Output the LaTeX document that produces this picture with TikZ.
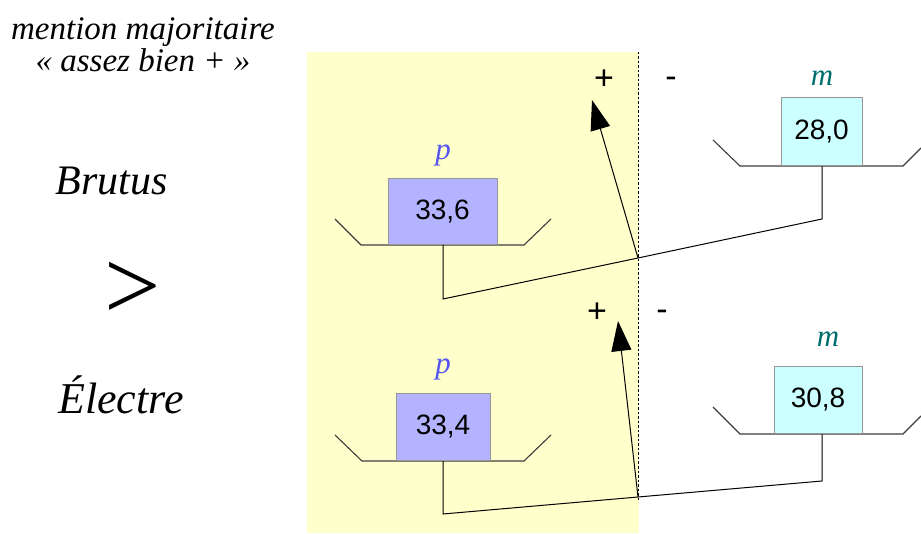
\documentclass[tikz,border=0pt]{standalone}
\usepackage{fontspec}
\setmainfont{Liberation Serif}
\newfontfamily\sansf{Liberation Sans}
\usetikzlibrary{arrows.meta}
\definecolor{bgyellow}{RGB}{255,255,204}
\definecolor{pfill}{RGB}{179,179,255}
\definecolor{mfill}{RGB}{204,255,255}
\definecolor{boxline}{RGB}{150,150,150}
\definecolor{pcol}{RGB}{85,85,240}
\definecolor{mcol}{RGB}{0,110,110}
\definecolor{panline}{RGB}{60,60,60}
\tikzset{
  weight/.style={draw=boxline, line width=1pt, inner sep=0pt, anchor=south,
     font=\sansf\fontsize{28}{30}\selectfont, minimum height=67pt},
  pweight/.style={weight, fill=pfill},
  mweight/.style={weight, fill=mfill},
  pan/.style={draw=panline, line width=1.1pt},
  beam/.style={draw=black, line width=1pt},
  arrowline/.style={draw=black, line width=1pt, -{Triangle[length=30pt,width=20pt]}},
  letterp/.style={text=pcol, font=\itshape\fontsize{31}{34}\selectfont},
  letterm/.style={text=mcol, font=\itshape\fontsize{31}{34}\selectfont},
  sign/.style={font=\sansf\fontsize{34}{36}\selectfont},
  bigtext/.style={font=\itshape\fontsize{42}{46}\selectfont},
  headtext/.style={font=\itshape\fontsize{33}{32}\selectfont, align=center}
}
\begin{document}
\begin{tikzpicture}[x=1pt,y=-1pt]
\useasboundingbox (0,0) rectangle (921,534);
% yellow zone
\fill[bgyellow] (307,52) rectangle (639,533);
\coordinate (dtop) at (638,52);
\coordinate (dbot) at (638,500);
\draw[black, line width=0.8pt, dash pattern=on 2.5pt off 2pt] (dtop) -- (dbot);

% left texts
\node[headtext] (head) at (143,45) {mention majoritaire\\« assez bien + »};
\node[bigtext] (brutus) at (112,181) {Brutus};
\node[font=\fontsize{100}{100}\selectfont] (gt) at (133,291) {>};
\node[font=\itshape\fontsize{44}{48}\selectfont] (electre) at (121,395) {Électre};

% ---------- top balance ----------
\coordinate (pa1) at (335,219);
\coordinate (pa2) at (361,245);
\coordinate (pa3) at (524,245);
\coordinate (pa4) at (551,219);
\draw[pan] (pa1) -- (pa2) -- (pa3) -- (pa4);
\node[pweight, minimum width=109pt, minimum height=66pt] (wpA) at (442.5,245) {33,6};
\node[letterp] (lpA) at (443,155) {p};
\coordinate (spA) at (443,245);
\coordinate (bpA) at (443,299);
\coordinate (pivA) at (638,258);
\coordinate (bmA) at (822,219);
\coordinate (smA) at (822,166);
\draw[beam] (spA) -- (bpA) -- (pivA) -- (bmA) -- (smA);
\coordinate (ma1) at (713,140);
\coordinate (ma2) at (740,166);
\coordinate (ma3) at (903,166);
\coordinate (ma4) at (921,148);
\draw[pan] (ma1) -- (ma2) -- (ma3) -- (ma4);
\node[mweight, minimum width=81pt, minimum height=68pt] (wmA) at (821.5,166) {28,0};
\node[letterm] (lmA) at (822,78) {m};
\coordinate (tipA) at (592,100);
\draw[arrowline] (pivA) -- (tipA);
\node[sign] (plusA) at (604,80) {+};
\node[sign] (minusA) at (671,82) {-};

% ---------- bottom balance ----------
\coordinate (pb1) at (335,435);
\coordinate (pb2) at (362,461);
\coordinate (pb3) at (524,461);
\coordinate (pb4) at (551,435);
\draw[pan] (pb1) -- (pb2) -- (pb3) -- (pb4);
\node[pweight, minimum width=94pt] (wpB) at (443,461) {33,4};
\node[letterp] (lpB) at (443,369) {p};
\coordinate (spB) at (443,461);
\coordinate (bpB) at (443,514);
\coordinate (pivB) at (638,497);
\coordinate (bmB) at (822,481);
\coordinate (smB) at (822,434);
\draw[beam] (spB) -- (bpB) -- (pivB) -- (bmB) -- (smB);
\coordinate (mb1) at (713,407);
\coordinate (mb2) at (740,434);
\coordinate (mb3) at (903,434);
\coordinate (mb4) at (921,416);
\draw[pan] (mb1) -- (mb2) -- (mb3) -- (mb4);
\node[mweight, minimum width=88pt] (wmB) at (818,434) {30,8};
\node[letterm] (lmB) at (828,339) {m};
\coordinate (tipB) at (618,321);
\draw[arrowline] (pivB) -- (tipB);
\node[sign] (plusB) at (597,313) {+};
\node[sign] (minusB) at (662,315) {-};
\end{tikzpicture}
\end{document}
